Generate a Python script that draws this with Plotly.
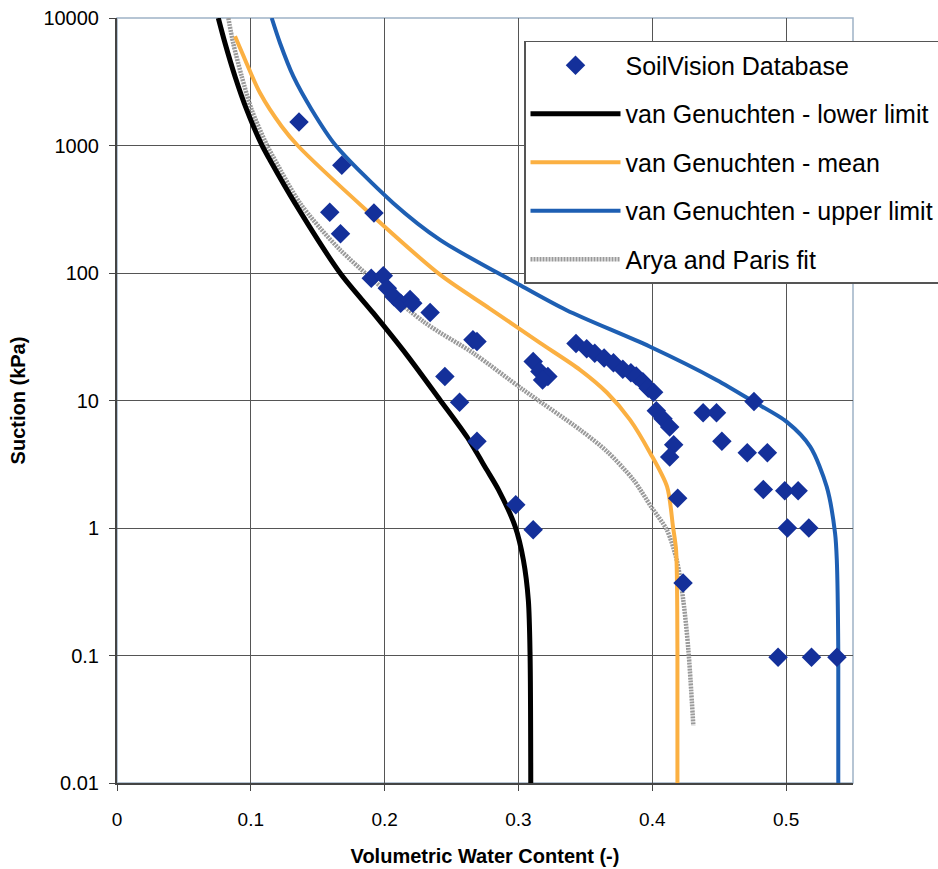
import plotly.graph_objects as go

# ---------------- data ----------------
soil_x = [0.136, 0.168, 0.159, 0.192, 0.167, 0.190, 0.199, 0.202, 0.207, 0.212,
          0.219, 0.221, 0.234, 0.266, 0.269, 0.245, 0.256, 0.269, 0.311, 0.316,
          0.322, 0.318, 0.298, 0.311, 0.343, 0.351, 0.357, 0.364, 0.371, 0.378,
          0.384, 0.388, 0.393, 0.397, 0.401, 0.403, 0.408, 0.413, 0.416, 0.413,
          0.419, 0.438, 0.448, 0.476, 0.452, 0.471, 0.486, 0.483, 0.499, 0.509,
          0.501, 0.517, 0.423, 0.494, 0.519, 0.538]
soil_y = [1530, 700, 300, 295, 203, 91, 95, 76, 65, 58,
          62, 58, 49, 30, 29, 15.4, 9.7, 4.8, 20.2, 16.9,
          15.4, 14.5, 1.52, 0.97, 28.0, 25.5, 23.5, 21.5, 19.8, 17.6,
          16.5, 15.6, 14.0, 12.5, 11.6, 8.3, 7.2, 6.2, 4.5, 3.6,
          1.71, 8.0, 8.0, 9.8, 4.8, 3.9, 3.9, 2.0, 1.96, 1.96,
          1.0, 1.0, 0.37, 0.097, 0.097, 0.097]

lower_x = [0.0757, 0.0807, 0.0882, 0.0969, 0.1081, 0.1143, 0.1330, 0.1667,
           0.1916, 0.2165, 0.2414, 0.2614, 0.2763, 0.2850, 0.2975, 0.3037,
           0.3074, 0.3087, 0.3092]
lower_y = [10000, 6370, 3480, 1910, 1015, 770, 353, 100,
           48.4, 22.8, 10.1, 5.2, 2.86, 2.0, 1.03, 0.56,
           0.27, 0.098, 0.01]

mean_x = [0.0882, 0.0957, 0.1069, 0.1231, 0.1350, 0.1880, 0.2414, 0.2788,
          0.3161, 0.3460, 0.3662, 0.3834, 0.3984, 0.4111, 0.4155, 0.4178,
          0.4188, 0.4188]
mean_y = [7180, 4710, 2580, 1410, 1000, 300, 97, 52.4,
          28.3, 17.4, 11.5, 7.05, 3.88, 2.10, 1.02, 0.67,
          0.11, 0.01]

upper_x = [0.1156, 0.1218, 0.1318, 0.1455, 0.1630, 0.2065, 0.2414, 0.2987,
           0.3360, 0.3980, 0.4480, 0.4756, 0.5005, 0.5180, 0.5304, 0.5366,
           0.5379, 0.5390, 0.5390]
upper_y = [10000, 6370, 3480, 1910, 1015, 353, 182, 83,
           51, 26.5, 14.5, 9.8, 6.8, 4.35, 2.1, 0.91,
           0.56, 0.11, 0.01]

arya_x = [0.0832, 0.0868, 0.0932, 0.1006, 0.1119, 0.1180, 0.1368, 0.1667,
          0.2290, 0.2663, 0.3037, 0.3460, 0.3660, 0.3860, 0.3995, 0.4108,
          0.4183, 0.4232, 0.4270, 0.4307]
arya_y = [10000, 6370, 3480, 1910, 1015, 770, 353, 152,
          41.6, 23.5, 12.1, 5.9, 4.0, 2.38, 1.45, 0.97,
          0.56, 0.27, 0.11, 0.028]

x_ticks = [0, 0.1, 0.2, 0.3, 0.4, 0.5]
x_tick_text = ["0", "0.1", "0.2", "0.3", "0.4", "0.5"]
y_ticks = [0.01, 0.1, 1, 10, 100, 1000, 10000]
y_tick_text = ["0.01", "0.1", "1", "10", "100", "1000", "10000"]

names = ["SoilVision Database", "van Genuchten - lower limit",
         "van Genuchten - mean", "van Genuchten - upper limit",
         "Arya and Paris fit"]

# ---------------- figure ----------------
FONT = "Liberation Sans, Arial, sans-serif"
fig = go.Figure()

fig.add_trace(go.Scatter(x=arya_x, y=arya_y, mode="lines", name=names[4],
                         legendgroup="g5", legendrank=5,
                         line=dict(color="#9a9a9a", width=4.5, dash="2px,1px",
                                   shape="spline", smoothing=0.8)))
fig.add_trace(go.Scatter(x=lower_x, y=lower_y, mode="lines", name=names[1],
                         legendgroup="g2", legendrank=2,
                         line=dict(color="#000000", width=5,
                                   shape="spline", smoothing=0.8)))
fig.add_trace(go.Scatter(x=mean_x, y=mean_y, mode="lines", name=names[2],
                         legendgroup="g3", legendrank=3,
                         line=dict(color="#FBB042", width=4,
                                   shape="spline", smoothing=0.8)))
fig.add_trace(go.Scatter(x=upper_x, y=upper_y, mode="lines", name=names[3],
                         legendgroup="g4", legendrank=4,
                         line=dict(color="#1E5FB3", width=4,
                                   shape="spline", smoothing=0.8)))
fig.add_trace(go.Scatter(x=soil_x, y=soil_y, mode="markers", name=names[0],
                         legendgroup="g1", legendrank=1,
                         marker=dict(symbol="diamond", size=15, color="#14309A",
                                     line=dict(width=0))))

fig.update_layout(
    width=938, height=869,
    margin=dict(l=117, r=85, t=18, b=86, autoexpand=False),
    paper_bgcolor="white", plot_bgcolor="white",
    font=dict(family=FONT, color="black"),
    showlegend=True,
    legend=dict(x=0.553, y=0.970, xanchor="left", yanchor="top",
                bgcolor="white", bordercolor="#555555", borderwidth=1.5,
                font=dict(family=FONT, size=25, color="black"),
                traceorder="grouped", tracegroupgap=13, itemwidth=90),
    xaxis=dict(range=[0, 0.55], tickvals=x_ticks, ticktext=x_tick_text,
               automargin=False,
               showgrid=True, gridcolor="#555555", gridwidth=1,
               zeroline=False, showline=True, linecolor="#444444", linewidth=2,
               ticks="outside", ticklen=6, tickcolor="#444444",
               tickfont=dict(size=19, family=FONT),
               ticklabelstandoff=12,
               title=dict(text="<b>Volumetric Water Content (-)</b>",
                          font=dict(size=20, family=FONT), standoff=20)),
    yaxis=dict(type="log", range=[-2, 4], tickvals=y_ticks, ticktext=y_tick_text,
               automargin=False,
               showgrid=True, gridcolor="#555555", gridwidth=1,
               zeroline=False, showline=True, linecolor="#444444", linewidth=2,
               ticks="outside", ticklen=6, tickcolor="#444444",
               tickfont=dict(size=20, family=FONT),
               ticklabelstandoff=6,
               title=dict(text="<b>Suction (kPa)</b>",
                          font=dict(size=20, family=FONT), standoff=12)),
    shapes=[dict(type="rect", xref="x domain", yref="y domain",
                 x0=0, x1=1, y0=0, y1=1,
                 line=dict(color="#9fb2c6", width=1.5), layer="below")],
)

fig.write_html("out.html")
